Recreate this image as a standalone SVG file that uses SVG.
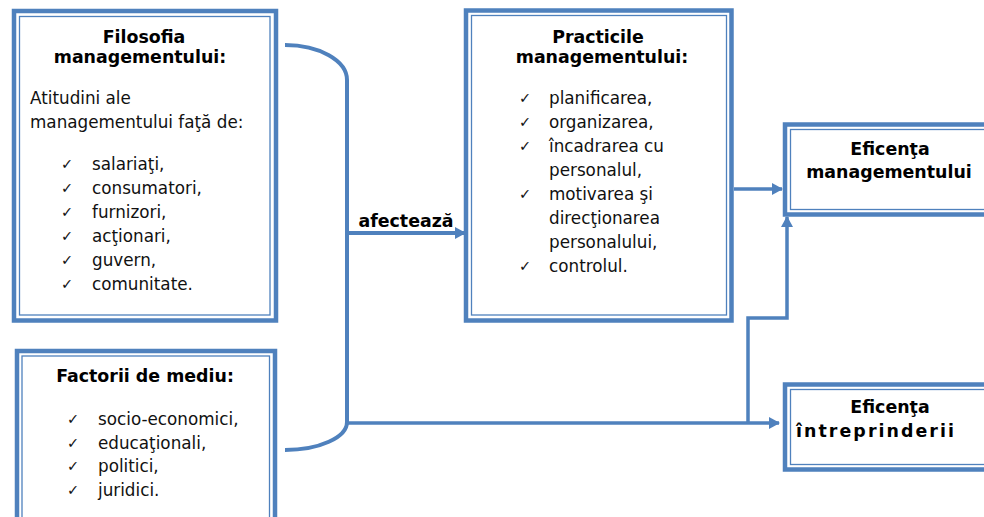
<svg xmlns="http://www.w3.org/2000/svg" width="984" height="517" viewBox="0 0 984 517">
  <defs>
    <style>
      .outer { fill: #ffffff; stroke: #4f81bd; stroke-width: 4.5; }
      .inner { fill: none; stroke: #4f81bd; stroke-width: 1.3; }
      .head { font-family: "DejaVu Sans", Verdana, sans-serif; font-weight: bold; font-size: 17.4px; fill: #000; text-anchor: middle; }
      .txt { font-family: "DejaVu Sans", Verdana, sans-serif; font-size: 16.8px; fill: #111; }
      .chk { font-family: "DejaVu Sans", sans-serif; font-size: 14.5px; fill: #111; }
      .wire { fill: none; stroke: #4f81bd; stroke-width: 4; }
      .wire-thin { fill: none; stroke: #4f81bd; stroke-width: 3.5; }
    </style>
    <marker id="arrow" markerUnits="userSpaceOnUse" markerWidth="12" markerHeight="12" refX="10" refY="6" orient="auto">
      <path d="M0,0 L11,6 L0,12 Z" fill="#4f81bd"/>
    </marker>
  </defs>

  <!-- connectors -->
  <g id="connectors">
    <!-- brace joining the two left boxes -->
    <path class="wire" d="M285,45 A62,35 0 0 1 347,80 L347,422 A62,28 0 0 1 285,450"/>
    <path class="wire" d="M347,233 L465,233" marker-end="url(#arrow)"/>
    <path class="wire-thin" d="M347,423 L779,423" marker-end="url(#arrow)"/>
    <path class="wire-thin" d="M748,423 L748,318 L787,318 L787,217" marker-end="url(#arrow)"/>
    <path class="wire-thin" d="M734,189 L782,189" marker-end="url(#arrow)"/>
    <text class="head" x="406" y="227">afectează</text>
  </g>

  <!-- Filosofia managementului -->
  <g id="filosofia">
    <rect class="outer" x="14" y="11" width="262" height="309.5"/>
    <rect class="inner" x="19.5" y="16.5" width="250.5" height="298.5"/>
    <text class="head" x="144" y="42.5">Filosofia</text>
    <text class="head" x="140" y="62.5">managementului:</text>
    <text class="txt" x="30" y="104">Atitudini ale</text>
    <text class="txt" x="30" y="128">managementului faţă de:</text>
    <text class="chk" x="61" y="169">✓</text><text class="txt" x="92" y="170">salariaţi,</text>
    <text class="chk" x="61" y="193">✓</text><text class="txt" x="92" y="194">consumatori,</text>
    <text class="chk" x="61" y="217">✓</text><text class="txt" x="92" y="218">furnizori,</text>
    <text class="chk" x="61" y="241">✓</text><text class="txt" x="92" y="242">acţionari,</text>
    <text class="chk" x="61" y="265">✓</text><text class="txt" x="92" y="266">guvern,</text>
    <text class="chk" x="61" y="289">✓</text><text class="txt" x="92" y="290">comunitate.</text>
  </g>

  <!-- Factorii de mediu -->
  <g id="factorii">
    <rect class="outer" x="17" y="351" width="258" height="200"/>
    <rect class="inner" x="22" y="356" width="247.5" height="190"/>
    <text class="head" x="145" y="382">Factorii de mediu:</text>
    <text class="chk" x="67" y="424">✓</text><text class="txt" x="98" y="425">socio-economici,</text>
    <text class="chk" x="67" y="447.5">✓</text><text class="txt" x="98" y="448.5">educaţionali,</text>
    <text class="chk" x="67" y="471">✓</text><text class="txt" x="98" y="472">politici,</text>
    <text class="chk" x="67" y="494.5">✓</text><text class="txt" x="98" y="495.5">juridici.</text>
  </g>

  <!-- Practicile managementului -->
  <g id="practicile">
    <rect class="outer" x="466" y="10.5" width="265.5" height="310"/>
    <rect class="inner" x="471.5" y="15.5" width="255" height="299.5"/>
    <text class="head" x="598" y="42.5">Practicile</text>
    <text class="head" x="602" y="62.5">managementului:</text>
    <text class="chk" x="519" y="103">✓</text><text class="txt" x="549" y="104">planificarea,</text>
    <text class="chk" x="519" y="127">✓</text><text class="txt" x="549" y="128">organizarea,</text>
    <text class="chk" x="519" y="151">✓</text><text class="txt" x="549" y="152">încadrarea cu</text>
    <text class="txt" x="549" y="176">personalul,</text>
    <text class="chk" x="519" y="199">✓</text><text class="txt" x="549" y="200">motivarea şi</text>
    <text class="txt" x="549" y="224">direcţionarea</text>
    <text class="txt" x="549" y="248">personalului,</text>
    <text class="chk" x="519" y="271">✓</text><text class="txt" x="549" y="272">controlul.</text>
  </g>

  <!-- Eficenţa managementului -->
  <g id="eficenta-management">
    <rect class="outer" x="785" y="124.5" width="220" height="90"/>
    <rect class="inner" x="790.5" y="129.5" width="210" height="80"/>
    <text class="head" x="890" y="155">Eficenţa</text>
    <text class="head" x="889" y="178">managementului</text>
  </g>

  <!-- Eficenţa întreprinderii -->
  <g id="eficenta-intreprindere">
    <rect class="outer" x="785" y="384.5" width="220" height="85"/>
    <rect class="inner" x="790.5" y="389.5" width="210" height="75"/>
    <text class="head" x="890" y="413">Eficenţa</text>
    <text class="head" x="875" y="437" textLength="158" lengthAdjust="spacing">întreprinderii</text>
  </g>
</svg>
